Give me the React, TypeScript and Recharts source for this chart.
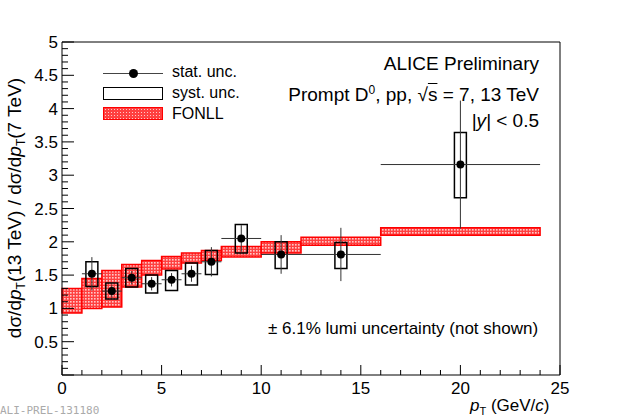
import React from "react";
import {
  ComposedChart,
  Scatter,
  ErrorBar,
  XAxis,
  YAxis,
  ReferenceArea,
} from "recharts";

// measured ratio 13/7 TeV
const ptCentres = [1.5, 2.5, 3.5, 4.5, 5.5, 6.5, 7.5, 9, 11, 14, 20];
const ptHalfWidth = [0.5, 0.5, 0.5, 0.5, 0.5, 0.5, 0.5, 1, 1, 2, 4];
const ratio = [1.52, 1.26, 1.46, 1.37, 1.43, 1.52, 1.7, 2.05, 1.81, 1.81, 3.16];
const statErr = [0.25, 0.1, 0.1, 0.1, 0.1, 0.12, 0.22, 0.2, 0.29, 0.4, 0.96];
const systLow = [1.33, 1.14, 1.32, 1.23, 1.27, 1.35, 1.51, 1.83, 1.6, 1.6, 2.66];
const systHigh = [1.7, 1.38, 1.6, 1.5, 1.57, 1.68, 1.87, 2.26, 2.0, 1.99, 3.64];

// FONLL band
const fonllEdges = [0, 1, 2, 3, 4, 5, 6, 7, 8, 10, 12, 16, 24];
const fonllLow = [0.93, 1.0, 1.02, 1.32, 1.5, 1.59, 1.68, 1.72, 1.77, 1.83, 1.95, 2.1];
const fonllHigh = [1.3, 1.45, 1.57, 1.66, 1.72, 1.78, 1.83, 1.87, 1.93, 2.0, 2.07, 2.21];

const xMajor = [0, 5, 10, 15, 20, 25];
const yMajor = [0.5, 1, 1.5, 2, 2.5, 3, 3.5, 4, 4.5, 5];
const xTicks = Array.from({ length: 26 }, (_, i) => i);
const yTicks = Array.from({ length: 51 }, (_, i) => Math.round(i * 10) / 100);

const points = ptCentres.map((x, i) => ({ x, y: ratio[i], ex: ptHalfWidth[i], ey: statErr[i] }));

const FONT = "'Liberation Sans', Arial, sans-serif";
const isMajor = (v: number, majors: number[]) => majors.some((m) => Math.abs(m - v) < 1e-6);

const XTick = ({ x, y, payload, side }: any) => {
  const major = isMajor(payload.value, xMajor);
  const len = major ? 10 : 5;
  const dir = side === "top" ? 1 : -1;
  return (
    <g>
      <line x1={x} x2={x} y1={y} y2={y + dir * len} stroke="#000" strokeWidth={1} />
      {major && side !== "top" && (
        <text x={x} y={y + 19} textAnchor="middle" fontSize={17} fontFamily={FONT}>
          {payload.value}
        </text>
      )}
    </g>
  );
};

const YTick = ({ x, y, payload, side }: any) => {
  const v = payload.value;
  const major = isMajor(v, yMajor) || Math.abs(v) < 1e-6;
  const len = major ? 12 : 6;
  const dir = side === "right" ? -1 : 1;
  return (
    <g>
      <line x1={x} x2={x + dir * len} y1={y} y2={y} stroke="#000" strokeWidth={1} />
      {major && v > 0 && side !== "right" && (
        <text x={x - 4} y={y + 6} textAnchor="end" fontSize={17} fontFamily={FONT}>
          {v}
        </text>
      )}
    </g>
  );
};

const Dot = ({ cx, cy }: any) => <circle cx={cx} cy={cy} r={4} fill="#000" />;

export default function App() {
  return (
    <div style={{ position: "absolute", left: 0, top: 0, width: 620, height: 420, background: "#fff", fontFamily: FONT }}>
      <ComposedChart width={620} height={420} margin={{ top: 41, right: 59, bottom: 44, left: 61 }}>
        <defs>
          <pattern id="fonll" width="3" height="3" patternUnits="userSpaceOnUse">
            <rect width="3" height="3" fill="#ff4040" />
            <rect x="1" y="1" width="1.6" height="1.6" fill="#ffc8c8" />
          </pattern>
        </defs>
        <XAxis xAxisId="b" type="number" dataKey="x" domain={[0, 25]} ticks={xTicks} interval={0} height={1}
          tick={<XTick side="bottom" />} tickLine={false} tickSize={0} tickMargin={0} axisLine={{ stroke: "#000" }} allowDataOverflow />
        <XAxis xAxisId="t" orientation="top" type="number" domain={[0, 25]} ticks={xTicks} interval={0} height={1}
          tick={<XTick side="top" />} tickLine={false} tickSize={0} tickMargin={0} axisLine={{ stroke: "#000" }} />
        <YAxis yAxisId="l" type="number" dataKey="y" domain={[0, 5]} ticks={yTicks} interval={0} width={1}
          tick={<YTick side="left" />} tickLine={false} tickSize={0} tickMargin={0} axisLine={{ stroke: "#000" }} allowDataOverflow />
        <YAxis yAxisId="r" orientation="right" type="number" domain={[0, 5]} ticks={yTicks} interval={0} width={1}
          tick={<YTick side="right" />} tickLine={false} tickSize={0} tickMargin={0} axisLine={{ stroke: "#000" }} />
        {fonllLow.map((lo, i) => (
          <ReferenceArea key={"f" + i} xAxisId="b" yAxisId="l" x1={fonllEdges[i]} x2={fonllEdges[i + 1]} y1={lo} y2={fonllHigh[i]}
            fill="url(#fonll)" fillOpacity={1} stroke="#ff0000" strokeWidth={1.5} ifOverflow="visible" />
        ))}
        <Scatter xAxisId="b" yAxisId="l" data={points} shape={<Dot />} isAnimationActive={false}>
          <ErrorBar dataKey="ex" direction="x" width={0} stroke="#333" strokeWidth={1} isAnimationActive={false} />
          <ErrorBar dataKey="ey" direction="y" width={0} stroke="#333" strokeWidth={1} isAnimationActive={false} />
        </Scatter>
        {ptCentres.map((x, i) => (
          <ReferenceArea key={"s" + i} xAxisId="b" yAxisId="l" x1={x - 0.3} x2={x + 0.3} y1={systLow[i]} y2={systHigh[i]}
            fill="none" stroke="#000" strokeWidth={1.5} ifOverflow="visible" />
        ))}
      </ComposedChart>

      {/* legend */}
      <div style={{ position: "absolute", left: 103, top: 73, width: 60, height: 1, background: "#444" }} />
      <div style={{ position: "absolute", left: 129, top: 69, width: 9, height: 9, borderRadius: 5, background: "#000" }} />
      <div style={{ position: "absolute", left: 103, top: 87, width: 60, height: 13, border: "1.5px solid #000", boxSizing: "border-box" }} />
      <div style={{ position: "absolute", left: 103, top: 107, width: 60, height: 13, border: "1.5px solid #f00", boxSizing: "border-box",
        backgroundImage: "radial-gradient(#ffc8c8 0.7px, #ff4040 0.7px)", backgroundSize: "3px 3px" }} />
      <div style={{ position: "absolute", left: 172, top: 61, fontSize: 16, lineHeight: "21px" }}>
        <div>stat. unc.</div>
        <div>syst. unc.</div>
        <div>FONLL</div>
      </div>

      {/* annotations */}
      <div style={{ position: "absolute", right: 81, top: 51, fontSize: 19, textAlign: "right", lineHeight: "26px" }}>
        <div>ALICE Preliminary</div>
        <div>Prompt D<sup style={{ fontSize: 12 }}>0</sup>, pp, √<span style={{ textDecoration: "overline" }}>s</span> = 7, 13 TeV</div>
        <div><i>|y|</i> &lt; 0.5</div>
      </div>
      <div style={{ position: "absolute", left: 268, top: 319, fontSize: 17 }}>± 6.1% lumi uncertainty (not shown)</div>
      <div style={{ position: "absolute", left: 470, top: 396, fontSize: 17 }}>
        <i>p</i><sub style={{ fontSize: 11 }}>T</sub> (GeV/<i>c</i>)
      </div>
      <div style={{ position: "absolute", left: 0, top: 404, fontSize: 11, color: "#aaa", fontFamily: "'DejaVu Sans Mono', monospace" }}>
        ALI-PREL-131180
      </div>
      <div style={{ position: "absolute", left: 16, top: 208, transform: "translate(-50%, -50%) rotate(-90deg)", whiteSpace: "nowrap", fontSize: 19 }}>
        dσ/d<i>p</i><sub style={{ fontSize: 12 }}>T</sub>(13 TeV) / dσ/d<i>p</i><sub style={{ fontSize: 12 }}>T</sub>(7 TeV)
      </div>
    </div>
  );
}
